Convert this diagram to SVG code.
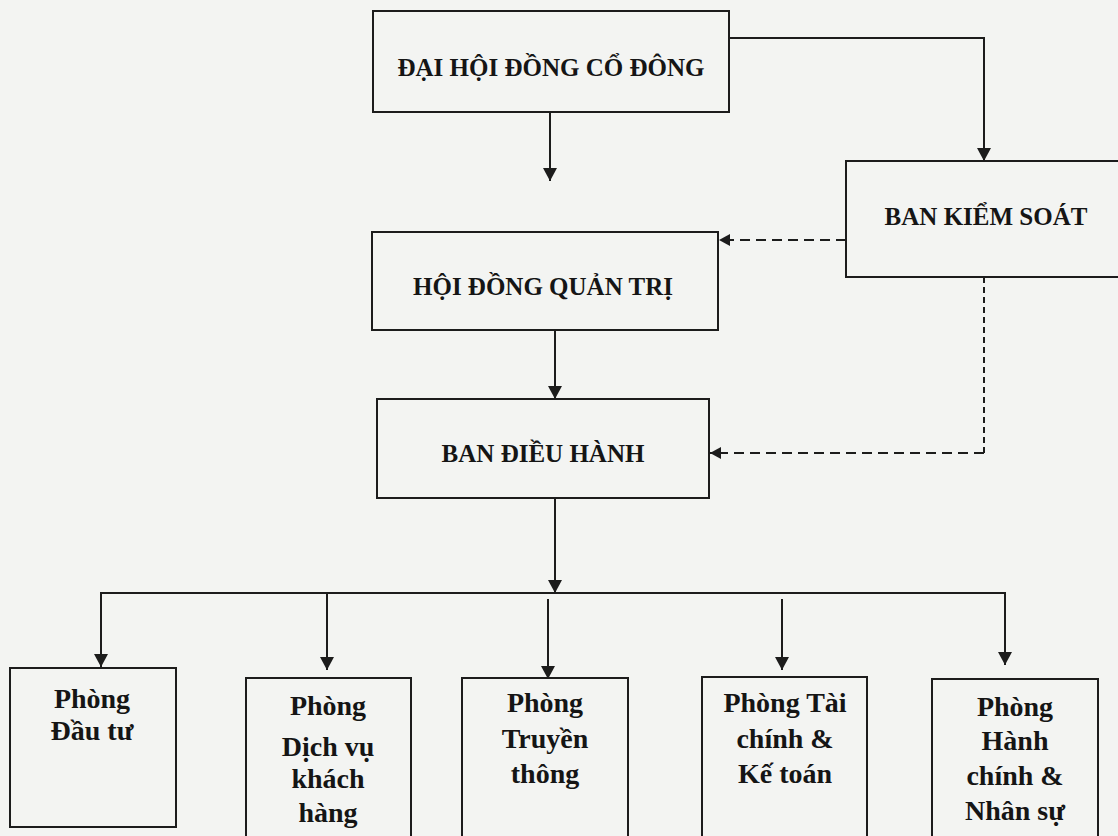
<svg xmlns="http://www.w3.org/2000/svg" width="1118" height="836" viewBox="0 0 1118 836">
<defs>
<style>
.box{fill:none;stroke:#1c1c1c;stroke-width:2}
.ln{fill:none;stroke:#1c1c1c;stroke-width:2}
.dash{fill:none;stroke:#1c1c1c;stroke-width:2.2;stroke-dasharray:10 6}
.vdash{fill:none;stroke:#1c1c1c;stroke-width:2;stroke-dasharray:6 4}
.t{font-family:"Liberation Serif","Times New Roman",serif;font-weight:bold;fill:#151515;text-anchor:middle}
.big{font-size:25px}
.sm{font-size:28px}
</style>
<marker id="arr" markerUnits="userSpaceOnUse" markerWidth="14" markerHeight="14" refX="13" refY="7" orient="auto">
<path d="M0,0 L13,7 L0,14 z" fill="#1c1c1c"/>
</marker>
<marker id="arrs" markerUnits="userSpaceOnUse" markerWidth="12" markerHeight="12" refX="11" refY="6" orient="auto">
<path d="M0,0 L11,6 L0,12 z" fill="#1c1c1c"/>
</marker>
</defs>
<rect width="1118" height="836" fill="#f3f4f2"/>

<g id="connectors">
<path class="ln" d="M550,112 V181" marker-end="url(#arr)"/>
<path class="ln" d="M729,38 H984 V161" marker-end="url(#arr)"/>
<path class="dash" d="M846,240 H719" marker-end="url(#arrs)"/>
<path class="vdash" d="M984,277 V453"/>
<path class="dash" d="M984,453 H710" marker-end="url(#arrs)"/>
<path class="ln" d="M555,330 V399" marker-end="url(#arr)"/>
<path class="ln" d="M555,498 V593" marker-end="url(#arr)"/>
<path class="ln" d="M101,667 V593 H1005 V665" marker-end="url(#arr)"/>
<path class="ln" d="M101,593 V667" marker-end="url(#arr)"/>
<path class="ln" d="M327,593 V670" marker-end="url(#arr)"/>
<path class="ln" d="M548,599 V679" marker-end="url(#arr)"/>
<path class="ln" d="M782,599 V670" marker-end="url(#arr)"/>
</g>

<g id="dhdcd">
<rect class="box" x="373" y="11" width="356" height="101"/>
<text class="t big" x="551" y="76">ĐẠI HỘI ĐỒNG CỔ ĐÔNG</text>
</g>
<g id="bks">
<rect class="box" x="846" y="161" width="290" height="116"/>
<text class="t big" x="986" y="225">BAN KIỂM SOÁT</text>
</g>
<g id="hdqt">
<rect class="box" x="372" y="232" width="346" height="98"/>
<text class="t big" x="543" y="295">HỘI ĐỒNG QUẢN TRỊ</text>
</g>
<g id="bdh">
<rect class="box" x="377" y="399" width="332" height="99"/>
<text class="t big" x="543" y="462">BAN ĐIỀU HÀNH</text>
</g>
<g id="p-dautu">
<rect class="box" x="10" y="668" width="166" height="159"/>
<text class="t sm" x="92" y="708">Phòng</text>
<text class="t sm" x="92" y="740">Đầu tư</text>
</g>
<g id="p-dichvu">
<rect class="box" x="246" y="678" width="165" height="160"/>
<text class="t sm" x="328" y="715">Phòng</text>
<text class="t sm" x="328" y="756">Dịch vụ</text>
<text class="t sm" x="328" y="788">khách</text>
<text class="t sm" x="328" y="822">hàng</text>
</g>
<g id="p-truyenthong">
<rect class="box" x="462" y="678" width="166" height="160"/>
<text class="t sm" x="545" y="712">Phòng</text>
<text class="t sm" x="545" y="748">Truyền</text>
<text class="t sm" x="545" y="783">thông</text>
</g>
<g id="p-taichinh">
<rect class="box" x="702" y="677" width="165" height="161"/>
<text class="t sm" x="785" y="712">Phòng Tài</text>
<text class="t sm" x="785" y="748">chính &amp;</text>
<text class="t sm" x="785" y="783">Kế toán</text>
</g>
<g id="p-hanhchinh">
<rect class="box" x="932" y="679" width="166" height="159"/>
<text class="t sm" x="1015" y="716">Phòng</text>
<text class="t sm" x="1015" y="750">Hành</text>
<text class="t sm" x="1015" y="785">chính &amp;</text>
<text class="t sm" x="1015" y="820">Nhân sự</text>
</g>
</svg>
